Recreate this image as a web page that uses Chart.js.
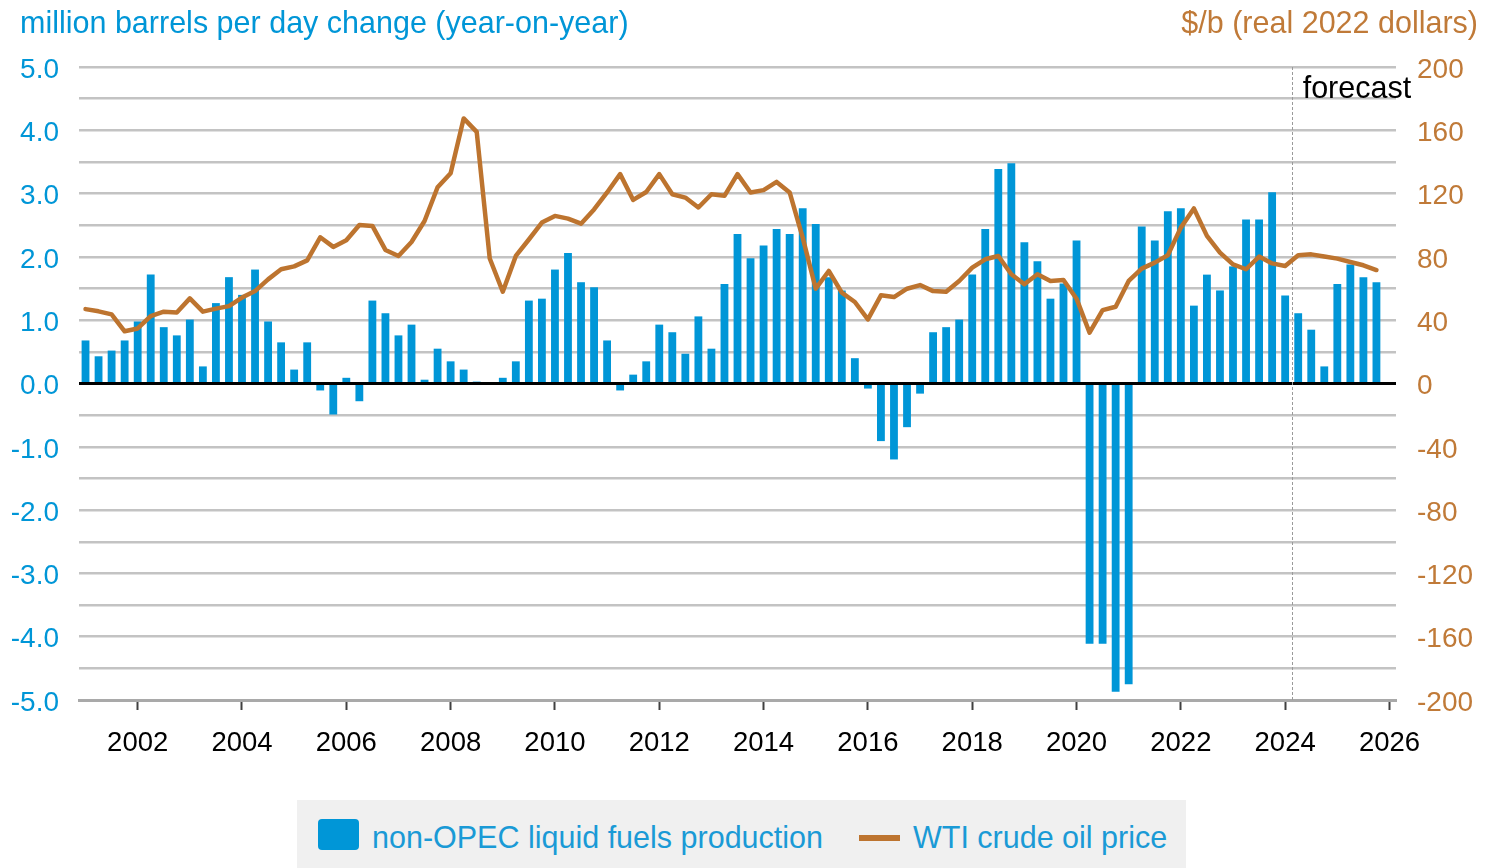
<!DOCTYPE html>
<html>
<head>
<meta charset="utf-8">
<script src="https://cdn.jsdelivr.net/npm/chart.js@4.4.1/dist/chart.umd.min.js"></script>
<style>
  html, body { margin: 0; padding: 0; background: #ffffff; }
  #wrap { position: relative; width: 1485px; height: 868px; overflow: hidden; }
  #legend {
    position: absolute; left: 297px; top: 800px; width: 889px; height: 68px;
    background: #f0f0f0; display: flex; align-items: center; box-sizing: border-box; padding-top: 7px;
    font-family: "Liberation Sans", Arial, sans-serif; font-size: 30.5px; color: #1a9ad6; white-space: nowrap;
  }
  .sw-bar { width: 41px; height: 31px; border-radius: 4px; background: #0096d7; margin-left: 21px; position: relative; top: -3px; }
  .sw-line { width: 41px; height: 6px; background: #bd742f; margin-left: 36px; }
  .lt { margin-left: 13px; }
</style>
</head>
<body>
<div id="wrap">
  <canvas id="c" width="1485" height="868"></canvas>
  <div id="legend">
    <div class="sw-bar"></div><span class="lt" id="lg1"></span>
    <div class="sw-line"></div><span class="lt" id="lg2"></span>
  </div>
</div>
<script>
// ---- data ----
const categories = [
  "2001Q1","2001Q2","2001Q3","2001Q4","2002Q1","2002Q2","2002Q3","2002Q4",
  "2003Q1","2003Q2","2003Q3","2003Q4","2004Q1","2004Q2","2004Q3","2004Q4",
  "2005Q1","2005Q2","2005Q3","2005Q4","2006Q1","2006Q2","2006Q3","2006Q4",
  "2007Q1","2007Q2","2007Q3","2007Q4","2008Q1","2008Q2","2008Q3","2008Q4",
  "2009Q1","2009Q2","2009Q3","2009Q4","2010Q1","2010Q2","2010Q3","2010Q4",
  "2011Q1","2011Q2","2011Q3","2011Q4","2012Q1","2012Q2","2012Q3","2012Q4",
  "2013Q1","2013Q2","2013Q3","2013Q4","2014Q1","2014Q2","2014Q3","2014Q4",
  "2015Q1","2015Q2","2015Q3","2015Q4","2016Q1","2016Q2","2016Q3","2016Q4",
  "2017Q1","2017Q2","2017Q3","2017Q4","2018Q1","2018Q2","2018Q3","2018Q4",
  "2019Q1","2019Q2","2019Q3","2019Q4","2020Q1","2020Q2","2020Q3","2020Q4",
  "2021Q1","2021Q2","2021Q3","2021Q4","2022Q1","2022Q2","2022Q3","2022Q4",
  "2023Q1","2023Q2","2023Q3","2023Q4","2024Q1","2024Q2","2024Q3","2024Q4",
  "2025Q1","2025Q2","2025Q3","2025Q4","2026Q1"
];

// non-OPEC liquid fuels production, million b/d change year-on-year
const nonOpecChange = [
  0.68, 0.43, 0.52, 0.68, 0.98, 1.72, 0.89, 0.76,
  1.01, 0.27, 1.27, 1.68, 1.40, 1.80, 0.98, 0.65,
  0.22, 0.65, -0.11, -0.49, 0.09, -0.28, 1.31, 1.11,
  0.76, 0.93, 0.06, 0.55, 0.35, 0.22, 0.03, 0.00,
  0.09, 0.35, 1.31, 1.34, 1.80, 2.06, 1.60, 1.52,
  0.68, -0.11, 0.14, 0.35, 0.93, 0.81, 0.47, 1.06,
  0.55, 1.57, 2.36, 1.98, 2.18, 2.44, 2.36, 2.77,
  2.52, 1.68, 1.47, 0.40, -0.08, -0.91, -1.20, -0.69,
  -0.16, 0.81, 0.89, 1.01, 1.72, 2.44, 3.39, 3.48,
  2.23, 1.93, 1.34, 1.58, 2.26, -4.11, -4.11, -4.87,
  -4.75, 2.48, 2.26, 2.72, 2.77, 1.23, 1.72, 1.47,
  1.85, 2.59, 2.59, 3.02, 1.39, 1.11, 0.85, 0.27,
  1.57, 1.88, 1.68, 1.60
];

// WTI crude oil price, $/b (real 2022 dollars)
const wtiPrice = [
  47.0, 45.6, 43.7, 33.0, 34.8, 42.6, 45.4, 44.9,
  53.8, 45.4, 47.3, 48.9, 54.3, 58.4, 65.8, 72.2,
  74.0, 77.8, 92.4, 86.3, 90.5, 100.2, 99.6, 84.4,
  80.6, 89.4, 102.7, 124.0, 132.9, 167.5, 159.0, 79.0,
  58.0, 80.6, 91.0, 101.7, 105.9, 104.2, 101.0, 110.0,
  120.7, 132.3, 116.0, 121.0, 132.3, 119.6, 117.5, 111.2,
  119.6, 118.6, 132.3, 120.7, 122.2, 127.4, 120.7, 92.2,
  59.9, 71.1, 57.4, 51.5, 40.5, 55.7, 54.6, 59.9,
  62.2, 58.4, 58.0, 64.8, 73.2, 78.5, 80.6, 69.0,
  62.7, 69.0, 64.8, 65.4, 53.6, 32.1, 46.4, 48.5,
  64.8, 72.6, 76.4, 81.0, 98.5, 110.6, 93.3, 82.7,
  75.3, 72.2, 80.2, 75.9, 74.3, 81.0, 81.6, 80.2,
  78.9, 76.8, 74.7, 71.7
];

const xTickLabels = ["2002","2004","2006","2008","2010","2012","2014","2016","2018","2020","2022","2024","2026"];
const forecastStart = "2024Q2";
const seriesNames = ["non-OPEC liquid fuels production", "WTI crude oil price"];
const leftTitle = "million barrels per day change (year-on-year)";
const rightTitle = "$/b (real 2022 dollars)";
const forecastLabel = "forecast";

// ---- styles ----
const BLUE = "#0096d7";
const BROWN = "#bd742f";
const BROWN_TXT = "#c07a38";
const FONT = '"Liberation Sans", Arial, Helvetica, sans-serif';

document.getElementById("lg1").textContent = seriesNames[0];
document.getElementById("lg2").textContent = seriesNames[1];

Chart.defaults.font.family = FONT;

const decor = {
  id: "decor",
  beforeDatasetsDraw(chart) {
    const ctx = chart.ctx, xs = chart.scales.x, ca = chart.chartArea;
    const i0 = categories.indexOf(forecastStart);
    const x = Math.round((xs.getPixelForValue(i0 - 1) + xs.getPixelForValue(i0)) / 2) + 0.5;
    ctx.save();
    ctx.strokeStyle = "#9a9a9a";
    ctx.lineWidth = 1;
    ctx.setLineDash([3, 2]);
    ctx.beginPath();
    ctx.moveTo(x, ca.top);
    ctx.lineTo(x, ca.bottom);
    ctx.stroke();
    ctx.restore();
  },
  afterDraw(chart) {
    const ctx = chart.ctx, xs = chart.scales.x;
    const i0 = categories.indexOf(forecastStart);
    const x = (xs.getPixelForValue(i0 - 1) + xs.getPixelForValue(i0)) / 2;
    ctx.save();
    ctx.font = "30.5px " + FONT;
    ctx.textBaseline = "alphabetic";
    ctx.fillStyle = "#000000";
    ctx.textAlign = "left";
    ctx.fillText(forecastLabel, x + 11, 98);
    ctx.fillStyle = BLUE;
    ctx.fillText(leftTitle, 20, 33);
    ctx.fillStyle = BROWN_TXT;
    ctx.textAlign = "right";
    ctx.fillText(rightTitle, 1478, 33);
    ctx.restore();
  }
};

const chart = new Chart(document.getElementById("c"), {
  data: {
    labels: categories,
    datasets: [
      {
        type: "line", label: seriesNames[1], data: wtiPrice, yAxisID: "yR",
        borderColor: BROWN, backgroundColor: BROWN, borderWidth: 4.5,
        pointRadius: 0, tension: 0, order: 0, borderJoinStyle: "round", borderCapStyle: "round"
      },
      {
        type: "bar", label: seriesNames[0], data: nonOpecChange, yAxisID: "yL",
        backgroundColor: BLUE, barPercentage: 0.6, categoryPercentage: 1.0, order: 1
      }
    ]
  },
  options: {
    responsive: false, animation: false, devicePixelRatio: 1,
    layout: { padding: { top: 67, bottom: 111, left: 0, right: 0 } },
    plugins: { legend: { display: false }, tooltip: { enabled: false } },
    scales: {
      x: {
        type: "category", offset: true,
        grid: { display: true, drawOnChartArea: false, drawTicks: true, tickLength: 10,
                tickWidth: 2, tickColor: "#404040", offset: false },
        border: { display: true, color: "#a9a9a9", width: 3 },
        afterBuildTicks: (s) => {
          s.ticks = s.ticks.filter(t => {
            const c = categories[t.value];
            return c.endsWith("Q1") && xTickLabels.includes(c.slice(0, 4));
          });
        },
        ticks: { autoSkip: false, maxRotation: 0, minRotation: 0, padding: 17, color: "#000000",
                 font: { size: 27.5 }, callback: (v) => categories[v].slice(0, 4) }
      },
      yL: {
        position: "left", min: -5, max: 5,
        afterFit: (s) => { s.width = 79; },
        border: { display: false },
        grid: { drawTicks: false,
                color: (c) => (Math.abs(c.tick.value) < 1e-9 ? "#000000" : "#c3c3c3"),
                lineWidth: (c) => (Math.abs(c.tick.value) < 1e-9 ? 3 : 2.5) },
        ticks: { stepSize: 0.5, autoSkip: false, padding: 20, labelOffset: 3, color: BLUE, font: { size: 28 },
                 callback: (v) => (Math.abs(v - Math.round(v)) < 1e-9 ? Number(v).toFixed(1) : "") }
      },
      yR: {
        position: "right", min: -200, max: 200,
        afterFit: (s) => { s.width = 89; },
        border: { display: false },
        grid: { display: false, drawTicks: false },
        ticks: { stepSize: 40, autoSkip: false, padding: 21, labelOffset: 3, color: BROWN_TXT, font: { size: 28 },
                 callback: (v) => String(Math.round(v)) }
      }
    }
  },
  plugins: [decor]
});

// align plot area with the reference frame
(function fit() {
  const ca = chart.chartArea;
  const p = chart.options.layout.padding;
  const dt = 67 - ca.top, db = ca.bottom - 700;
  if (Math.abs(dt) > 0.5 || Math.abs(db) > 0.5) {
    p.top += dt; p.bottom += db;
    chart.update();
  }
})();
</script>
</body>
</html>
